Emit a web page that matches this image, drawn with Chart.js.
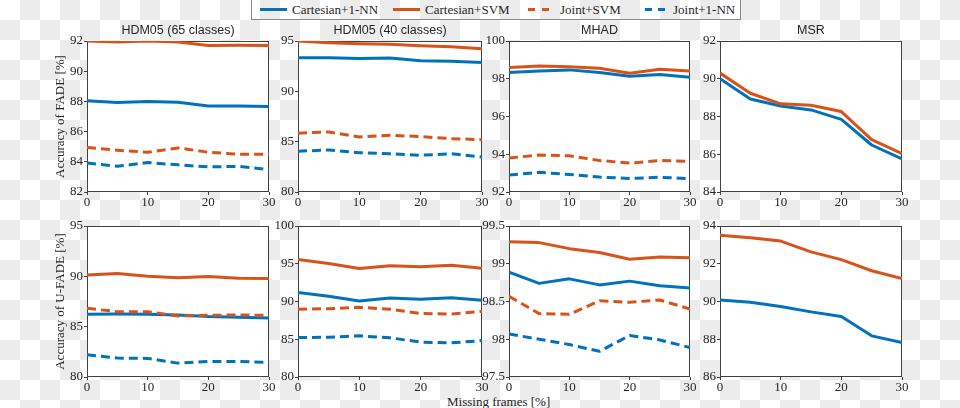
<!DOCTYPE html>
<html>
<head>
<meta charset="utf-8">
<script src="https://cdn.jsdelivr.net/npm/chart.js@4.4.1/dist/chart.umd.min.js"></script>
<style>
html, body { margin: 0; padding: 0; }
body {
    width: 960px; height: 408px; position: relative; overflow: hidden;
    background: repeating-conic-gradient(#ececec 0% 25%, #ffffff 0% 50%) 0 0 / 40px 40px;
    font-family: 'Liberation Serif', serif; color: #262626;
}
canvas { position: absolute; }
#legend { position: absolute; left: 251px; top: -1px; width: 488px; height: 19px; border: 1px solid #8a8a8a; }
.key { position: absolute; top: 8px; height: 0; border-top: 3px solid; }
.lbl { position: absolute; top: 1px; font-size: 13px; line-height: 18px; white-space: nowrap; }
#xlabel { position: absolute; left: 447px; top: 394px; font-size: 13px; line-height: 16px; white-space: nowrap; }
</style>
</head>
<body>
<div id="legend"></div>
<div id="xlabel"></div>
<script>
const frames = [0, 5, 10, 15, 20, 25, 30];
const seriesNames = ['Cartesian+1-NN', 'Cartesian+SVM', 'Joint+SVM', 'Joint+1-NN'];
const datasetTitles = ['HDM05 (65 classes)', 'HDM05 (40 classes)', 'MHAD', 'MSR'];
const rowTitles = ['Accuracy of FADE [%]', 'Accuracy of U-FADE [%]'];
const xAxisTitle = 'Missing frames [%]';

// FADE
const fadeHdm65CartNN   = [88.04, 87.93, 88.0, 87.95, 87.7, 87.7, 87.66];
const fadeHdm65CartSVM  = [92.0, 91.93, 92.0, 91.93, 91.7, 91.72, 91.7];
const fadeHdm65JointSVM = [84.94, 84.77, 84.63, 84.92, 84.63, 84.5, 84.5];
const fadeHdm65JointNN  = [83.92, 83.7, 83.95, 83.8, 83.66, 83.7, 83.48];

const fadeHdm40CartNN   = [93.34, 93.34, 93.27, 93.3, 93.04, 93.0, 92.87];
const fadeHdm40CartSVM  = [95.0, 94.83, 94.73, 94.67, 94.53, 94.43, 94.24];
const fadeHdm40JointSVM = [85.84, 85.97, 85.47, 85.64, 85.5, 85.3, 85.2];
const fadeHdm40JointNN  = [84.05, 84.18, 83.9, 83.8, 83.65, 83.8, 83.48];

const fadeMhadCartNN   = [98.33, 98.41, 98.47, 98.33, 98.13, 98.22, 98.08];
const fadeMhadCartSVM  = [98.59, 98.68, 98.64, 98.56, 98.29, 98.5, 98.41];
const fadeMhadJointSVM = [93.8, 93.96, 93.92, 93.67, 93.53, 93.67, 93.62];
const fadeMhadJointNN  = [92.9, 93.04, 92.93, 92.79, 92.72, 92.78, 92.7];

const fadeMsrCartNN  = [90.0, 88.93, 88.56, 88.35, 87.85, 86.49, 85.75];
const fadeMsrCartSVM = [90.3, 89.23, 88.67, 88.6, 88.26, 86.77, 86.03];

// U-FADE
const ufadeHdm65CartNN   = [86.23, 86.26, 86.23, 86.16, 86.0, 85.93, 85.87];
const ufadeHdm65CartSVM  = [90.12, 90.28, 90.02, 89.86, 89.99, 89.82, 89.79];
const ufadeHdm65JointSVM = [86.82, 86.49, 86.49, 86.06, 86.13, 86.16, 86.13];
const ufadeHdm65JointNN  = [82.21, 81.88, 81.85, 81.38, 81.55, 81.55, 81.45];

const ufadeHdm40CartNN   = [91.2, 90.7, 90.07, 90.46, 90.29, 90.5, 90.15];
const ufadeHdm40CartSVM  = [95.56, 95.03, 94.37, 94.73, 94.6, 94.81, 94.4];
const ufadeHdm40JointSVM = [88.97, 89.05, 89.23, 88.97, 88.4, 88.35, 88.7];
const ufadeHdm40JointNN  = [85.23, 85.27, 85.45, 85.19, 84.62, 84.53, 84.82];

const ufadeMhadCartNN   = [98.89, 98.74, 98.8, 98.72, 98.77, 98.71, 98.68];
const ufadeMhadCartSVM  = [99.29, 99.28, 99.2, 99.15, 99.06, 99.09, 99.08];
const ufadeMhadJointSVM = [98.57, 98.34, 98.33, 98.51, 98.49, 98.52, 98.4];
const ufadeMhadJointNN  = [98.07, 98.0, 97.93, 97.84, 98.05, 97.99, 97.89];

const ufadeMsrCartNN  = [90.08, 89.96, 89.73, 89.45, 89.2, 88.18, 87.83];
const ufadeMsrCartSVM = [93.51, 93.38, 93.2, 92.63, 92.22, 91.63, 91.22];

// y axis [min, max, step]
const yRangeFade  = [[82, 92, 2], [80, 95, 5], [92, 100, 2], [84, 92, 2]];
const yRangeUfade = [[80, 95, 5], [80, 100, 5], [97.5, 99.5, 0.5], [86, 94, 2]];

const fadeSeries = [
    [fadeHdm65CartNN, fadeHdm65CartSVM, fadeHdm65JointSVM, fadeHdm65JointNN],
    [fadeHdm40CartNN, fadeHdm40CartSVM, fadeHdm40JointSVM, fadeHdm40JointNN],
    [fadeMhadCartNN, fadeMhadCartSVM, fadeMhadJointSVM, fadeMhadJointNN],
    [fadeMsrCartNN, fadeMsrCartSVM, null, null]
];
const ufadeSeries = [
    [ufadeHdm65CartNN, ufadeHdm65CartSVM, ufadeHdm65JointSVM, ufadeHdm65JointNN],
    [ufadeHdm40CartNN, ufadeHdm40CartSVM, ufadeHdm40JointSVM, ufadeHdm40JointNN],
    [ufadeMhadCartNN, ufadeMhadCartSVM, ufadeMhadJointSVM, ufadeMhadJointNN],
    [ufadeMsrCartNN, ufadeMsrCartSVM, null, null]
];

// styles / layout
const lineColors = ['#0072BD', '#D95319', '#D95319', '#0072BD'];
const lineDash = [[], [], [9, 5], [9, 5]];
const colLeft = [87, 298, 509, 720];
const colRight = [269, 482, 690, 902];
const rowTop = [41, 226];
const rowBottom = [192, 377];
const textColor = '#262626';

Chart.defaults.font.family = "'Liberation Serif', serif";
Chart.defaults.font.size = 13;
Chart.defaults.color = textColor;

const whiteArea = {
    id: 'whiteArea',
    beforeDraw(chart) {
        const a = chart.chartArea, ctx = chart.ctx;
        ctx.save();
        ctx.fillStyle = '#ffffff';
        ctx.fillRect(a.left, a.top, a.right - a.left, a.bottom - a.top);
        ctx.restore();
    }
};
const boxFrame = {
    id: 'boxFrame',
    beforeDatasetsDraw(chart) {
        const a = chart.chartArea, ctx = chart.ctx;
        ctx.save();
        ctx.strokeStyle = '#404040';
        ctx.lineWidth = 1;
        ctx.strokeRect(a.left + 0.5, a.top + 0.5, a.right - a.left - 1, a.bottom - a.top - 1);
        ctx.restore();
    }
};
// panel title centred over the axes box (matlab style), not over the canvas
const panelTitle = {
    id: 'panelTitle',
    afterDraw(chart, args, opts) {
        if (!opts.text) return;
        const a = chart.chartArea, ctx = chart.ctx;
        ctx.save();
        ctx.fillStyle = textColor;
        ctx.font = "12.5px 'Liberation Sans', sans-serif";
        ctx.textAlign = 'center';
        ctx.textBaseline = 'middle';
        ctx.fillText(opts.text, (a.left + a.right) / 2, a.top - 10);
        ctx.restore();
    }
};

function makePanel(row, col) {
    const L = colLeft[col], R = colRight[col], T = rowTop[row], B = rowBottom[row];
    const axisW = 40, padTop = 24, padRight = 14, axisH = 22;
    const canvas = document.createElement('canvas');
    canvas.width = R - L + axisW + padRight;
    canvas.height = B - T + padTop + axisH;
    canvas.style.left = (L - axisW) + 'px';
    canvas.style.top = (T - padTop) + 'px';
    document.body.appendChild(canvas);

    const series = row === 0 ? fadeSeries[col] : ufadeSeries[col];
    const range = row === 0 ? yRangeFade[col] : yRangeUfade[col];

    const datasets = [];
    for (let i = 0; i < 4; i++) {
        if (!series[i]) continue;
        datasets.push({
            label: seriesNames[i],
            data: frames.map((f, k) => ({ x: f, y: series[i][k] })),
            borderColor: lineColors[i],
            borderWidth: 3,
            borderDash: lineDash[i],
            borderJoinStyle: 'round',
            pointRadius: 0,
            tension: 0,
            fill: false,
            order: 3 - i
        });
    }

    new Chart(canvas, {
        type: 'line',
        data: { datasets: datasets },
        options: {
            responsive: false,
            animation: false,
            events: [],
            layout: { padding: { top: padTop, right: padRight, left: 0, bottom: 0 } },
            plugins: {
                legend: { display: false },
                tooltip: { enabled: false },
                panelTitle: { text: row === 0 ? datasetTitles[col] : '' }
            },
            scales: {
                x: {
                    type: 'linear', min: 0, max: 30,
                    afterFit: s => { s.height = axisH; },
                    ticks: { stepSize: 10, padding: 0, color: textColor },
                    grid: { drawOnChartArea: false, tickLength: 3, color: '#404040' },
                    border: { display: false }
                },
                y: {
                    min: range[0], max: range[1],
                    afterFit: s => { s.width = axisW; },
                    ticks: { stepSize: range[2], padding: 1, color: textColor,
                             callback: v => String(+v.toFixed(1)) },
                    grid: { drawOnChartArea: false, tickLength: 3, color: '#404040' },
                    border: { display: false },
                    title: { display: col === 0, text: rowTitles[row], color: textColor,
                             padding: { top: 6, bottom: 0 } }
                }
            }
        },
        plugins: [whiteArea, boxFrame, panelTitle]
    });
}

for (let r = 0; r < 2; r++) {
    for (let c = 0; c < 4; c++) makePanel(r, c);
}

// legend
const legendKeys = [[[8, 27]], [[141, 27]], [[276, 7], [290, 7]], [[393, 7], [406, 7]]];
const legendText = [40, 173, 308, 421];
const legend = document.getElementById('legend');
seriesNames.forEach((name, i) => {
    legendKeys[i].forEach(k => {
        const d = document.createElement('div');
        d.className = 'key';
        d.style.left = k[0] + 'px';
        d.style.width = k[1] + 'px';
        d.style.borderColor = lineColors[i];
        legend.appendChild(d);
    });
    const t = document.createElement('div');
    t.className = 'lbl';
    t.style.left = legendText[i] + 'px';
    t.textContent = name;
    legend.appendChild(t);
});
document.getElementById('xlabel').textContent = xAxisTitle;
</script>
</body>
</html>
